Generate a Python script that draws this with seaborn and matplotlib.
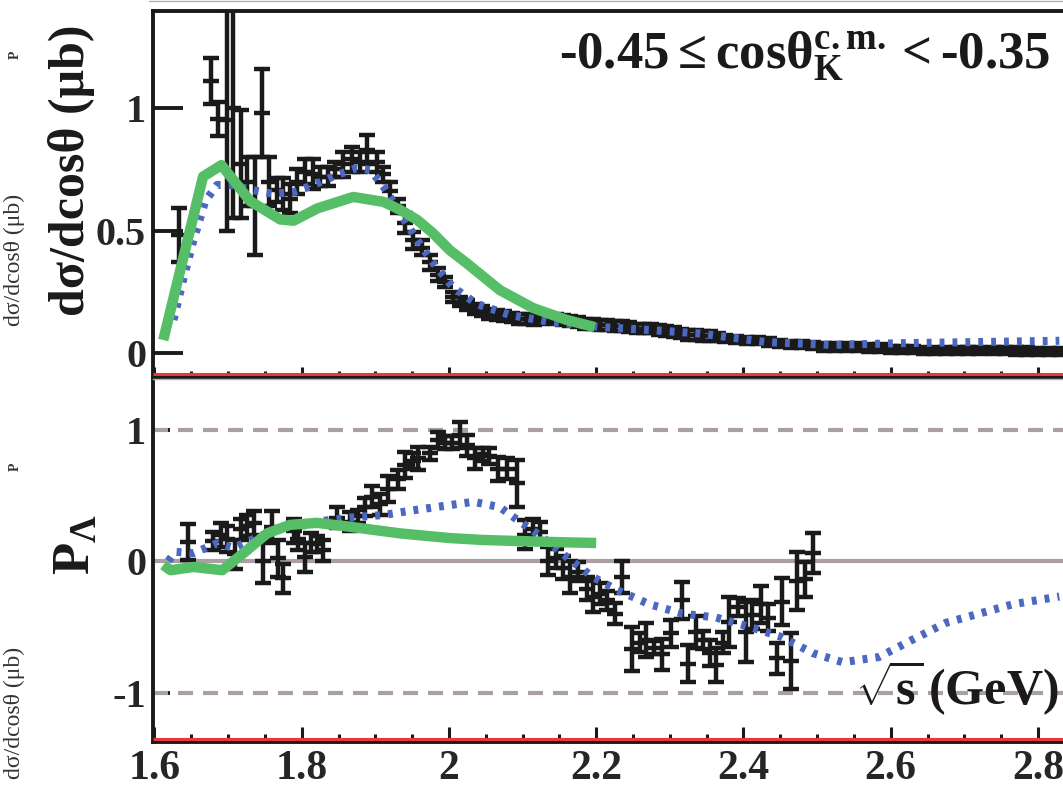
import matplotlib
matplotlib.use("Agg")
import matplotlib.pyplot as plt
from matplotlib.lines import Line2D
from matplotlib.ticker import FixedLocator, FuncFormatter
import seaborn as sns
import pandas as pd

# ---------------- data ----------------
# upper panel: differential cross section data points
ux = [1.634, 1.677, 1.687, 1.699, 1.707, 1.717, 1.726, 1.737, 1.746, 1.755, 1.767, 1.775,
      1.784, 1.794, 1.805, 1.816, 1.825, 1.836, 1.845, 1.856, 1.868, 1.879, 1.889, 1.902,
      1.911, 1.920, 1.931, 1.940, 1.951, 1.963, 1.974, 1.985, 1.995,
      2.005, 2.015, 2.025, 2.035, 2.045, 2.055, 2.065, 2.075, 2.085, 2.095, 2.105, 2.115,
      2.125, 2.135, 2.145, 2.155, 2.165, 2.175, 2.185, 2.195, 2.205, 2.215, 2.225, 2.235,
      2.245, 2.255, 2.265, 2.275, 2.285, 2.295, 2.305, 2.315, 2.325, 2.335, 2.345, 2.355,
      2.365, 2.375, 2.390, 2.405, 2.420, 2.435, 2.450, 2.465, 2.480, 2.495, 2.510, 2.525,
      2.540, 2.555, 2.570, 2.585, 2.600, 2.615, 2.630, 2.645, 2.660, 2.675, 2.690, 2.705,
      2.720, 2.740, 2.755, 2.770, 2.785, 2.800, 2.815, 2.830]
uy = [0.48, 1.11, 0.955, 0.95, 1.00, 0.77, 0.70, 0.60, 0.98, 0.70, 0.665, 0.65,
      0.63, 0.70, 0.74, 0.73, 0.72, 0.72, 0.75, 0.77, 0.79, 0.78, 0.83, 0.78,
      0.73, 0.66, 0.60, 0.53, 0.46, 0.43, 0.37, 0.32, 0.29,
      0.23, 0.21, 0.195, 0.18, 0.17, 0.16, 0.155, 0.15, 0.145, 0.14, 0.14, 0.135,
      0.14, 0.145, 0.14, 0.135, 0.13, 0.125, 0.12, 0.12, 0.115, 0.115, 0.11, 0.11,
      0.105, 0.10, 0.10, 0.10, 0.095, 0.09, 0.085, 0.08, 0.075, 0.075, 0.07, 0.07,
      0.065, 0.06, 0.055, 0.05, 0.05, 0.045, 0.04, 0.035, 0.035, 0.03, 0.025, 0.025,
      0.025, 0.025, 0.02, 0.02, 0.015, 0.015, 0.015, 0.01, 0.01, 0.01, 0.01, 0.01,
      0.01, 0.01, 0.01, 0.008, 0.008, 0.006, 0.005, 0.005]
ue = [0.11, 0.095, 0.07, 0.45, 0.45, 0.22, 0.10, 0.20, 0.18, 0.10, 0.05, 0.065,
      0.06, 0.05, 0.05, 0.06, 0.04, 0.04, 0.03, 0.05, 0.05, 0.04, 0.06, 0.04,
      0.03, 0.04, 0.03, 0.04, 0.035, 0.03, 0.03, 0.025, 0.02,
      0.02, 0.02, 0.02, 0.02, 0.02, 0.02, 0.02, 0.02, 0.02, 0.02, 0.02, 0.02,
      0.02, 0.02, 0.02, 0.02, 0.02, 0.02, 0.02, 0.02, 0.02, 0.02, 0.02, 0.02,
      0.02, 0.02, 0.02, 0.02, 0.02, 0.02, 0.02, 0.02, 0.02, 0.02, 0.02, 0.02,
      0.015, 0.015, 0.015, 0.015, 0.015, 0.015, 0.015, 0.015, 0.015, 0.015, 0.015, 0.015,
      0.015, 0.015, 0.015, 0.015, 0.015, 0.015, 0.015, 0.015, 0.015, 0.015, 0.015, 0.015,
      0.015, 0.015, 0.015, 0.015, 0.015, 0.015, 0.015, 0.015]

# upper panel model curves
green_x = [1.612, 1.666, 1.691, 1.730, 1.771, 1.789, 1.821, 1.870, 1.911, 1.934, 1.957,
           1.978, 2.001, 2.024, 2.069, 2.114, 2.160, 2.198]
green_y = [0.053, 0.72, 0.767, 0.62, 0.545, 0.54, 0.59, 0.637, 0.617, 0.584, 0.543,
           0.49, 0.42, 0.367, 0.257, 0.184, 0.135, 0.106]
blue_x = [1.626, 1.639, 1.653, 1.669, 1.685, 1.703, 1.734, 1.761, 1.789, 1.816, 1.848,
          1.875, 1.893, 1.911, 1.934, 1.957, 1.978, 2.005, 2.038, 2.083, 2.137, 2.205,
          2.273, 2.340, 2.430, 2.520, 2.610, 2.724, 2.829]
blue_y = [0.135, 0.30, 0.46, 0.62, 0.686, 0.686, 0.665, 0.65, 0.657, 0.686, 0.727,
          0.755, 0.747, 0.68, 0.57, 0.46, 0.37, 0.27, 0.20, 0.155, 0.127, 0.106,
          0.094, 0.08, 0.045, 0.033, 0.04, 0.045, 0.05]

# lower panel: polarization data points
lx = [1.645, 1.679, 1.690, 1.699, 1.710, 1.717, 1.726, 1.735, 1.748, 1.760, 1.768, 1.775,
      1.789, 1.795, 1.805, 1.812, 1.821, 1.829, 1.848, 1.866, 1.877, 1.886, 1.896, 1.906,
      1.917, 1.931, 1.940, 1.951, 1.958, 1.974, 1.985, 1.995, 2.004, 2.015, 2.024, 2.035,
      2.046, 2.055, 2.066, 2.079, 2.092, 2.103, 2.114, 2.123, 2.134, 2.146, 2.155, 2.164,
      2.175, 2.187, 2.195, 2.205, 2.214, 2.225, 2.235, 2.248, 2.259, 2.268, 2.279, 2.290,
      2.302, 2.316, 2.324, 2.336, 2.345, 2.354, 2.363, 2.372, 2.381, 2.392, 2.404, 2.412,
      2.424, 2.433, 2.445, 2.453, 2.465, 2.473, 2.483, 2.494]
ly = [0.145, 0.15, 0.20, 0.17, 0.05, 0.24, 0.27, 0.29, 0.00, 0.26, 0.02, -0.13,
      0.23, 0.17, 0.03, 0.14, 0.13, 0.08, 0.33, 0.30, 0.34, 0.41, 0.49, 0.43,
      0.55, 0.62, 0.73, 0.76, 0.78, 0.82, 0.92, 0.90, 0.90, 0.96, 0.88, 0.78,
      0.81, 0.80, 0.70, 0.70, 0.59, 0.20, 0.24, 0.22, 0.00, 0.02, -0.05, -0.12,
      -0.08, -0.21, -0.27, -0.25, -0.30, -0.40, -0.12, -0.67, -0.62, -0.60, -0.66, -0.71,
      -0.55, -0.30, -0.78, -0.54, -0.60, -0.70, -0.79, -0.62, -0.46, -0.35, -0.54, -0.41,
      -0.33, -0.43, -0.74, -0.31, -0.76, -0.15, -0.14, 0.06]
le = [0.14, 0.07, 0.09, 0.10, 0.11, 0.08, 0.08, 0.09, 0.17, 0.12, 0.14, 0.11,
      0.09, 0.09, 0.11, 0.07, 0.06, 0.08, 0.08, 0.07, 0.05, 0.07, 0.08, 0.08,
      0.10, 0.07, 0.10, 0.06, 0.09, 0.05, 0.06, 0.05, 0.05, 0.10, 0.08, 0.08,
      0.05, 0.06, 0.09, 0.08, 0.18, 0.11, 0.08, 0.08, 0.11, 0.07, 0.09, 0.12,
      0.07, 0.09, 0.12, 0.08, 0.07, 0.08, 0.12, 0.17, 0.07, 0.13, 0.05, 0.12,
      0.10, 0.14, 0.14, 0.12, 0.07, 0.10, 0.13, 0.08, 0.19, 0.07, 0.23, 0.11,
      0.14, 0.10, 0.12, 0.18, 0.21, 0.22, 0.13, 0.15]

# lower panel model curves
lgreen_x = [1.612, 1.622, 1.653, 1.692, 1.721, 1.753, 1.784, 1.821, 1.866, 1.934, 2.000,
            2.046, 2.137, 2.200]
lgreen_y = [-0.03, -0.07, -0.045, -0.07, 0.06, 0.21, 0.275, 0.29, 0.26, 0.21, 0.175,
            0.16, 0.145, 0.137]
lblue_x = [1.619, 1.628, 1.653, 1.685, 1.707, 1.740, 1.775, 1.821, 1.866, 1.911, 1.957,
           2.001, 2.033, 2.069, 2.096, 2.127, 2.160, 2.195, 2.228, 2.273, 2.317, 2.363,
           2.408, 2.453, 2.494, 2.535, 2.584, 2.629, 2.675, 2.720, 2.765, 2.829]
lblue_y = [0.0, 0.07, 0.06, 0.135, 0.10, 0.18, 0.26, 0.30, 0.33, 0.35, 0.39,
           0.425, 0.45, 0.41, 0.30, 0.18, 0.03, -0.12, -0.22, -0.33, -0.40, -0.43,
           -0.50, -0.58, -0.70, -0.77, -0.73, -0.60, -0.47, -0.40, -0.33, -0.27]

x_ticks = [1.6, 1.8, 2.0, 2.2, 2.4, 2.6, 2.8]
x_minor = [1.65, 1.7, 1.75, 1.85, 1.9, 1.95, 2.05, 2.1, 2.15, 2.25, 2.3, 2.35,
           2.45, 2.5, 2.55, 2.65, 2.7, 2.75]
top_yticks = [0, 0.5, 1]
bot_yticks = [-1, 0, 1]
annot_text = r"$\text{-0.45} \leq \mathrm{cos\theta}^{\mathrm{c.m.}}_{\mathrm{K}} < \text{-0.35}$"
ylabel_top = "dσ/dcosθ (μb)"
ylabel_bot = r"$\mathrm{P}_{\Lambda}$"
xlabel = r"$\sqrt{\mathrm{s}}\,\mathrm{(GeV)}$"

# ---------------- style ----------------
sns.set_theme(style="white")
plt.rcParams['font.family'] = ['Liberation Serif', 'DejaVu Serif']
plt.rcParams['font.weight'] = 'bold'
plt.rcParams['axes.unicode_minus'] = False
plt.rcParams['mathtext.fontset'] = 'custom'
plt.rcParams['mathtext.rm'] = 'Liberation Serif:bold'
plt.rcParams['mathtext.it'] = 'Liberation Serif:bold'
plt.rcParams['mathtext.bf'] = 'Liberation Serif:bold'
plt.rcParams['mathtext.sf'] = 'Liberation Serif:bold'

GREEN = '#56be67'
BLUE = '#4c68c1'
GREY = '#ab9ea5'
RED = '#e8383a'
BLACK = '#1a1a1a'

fig = plt.figure(figsize=(10.63, 7.85), dpi=100)
ax1 = fig.add_axes([0.1439, 0.5197, 0.8561, 0.4663])
ax2 = fig.add_axes([0.1439, 0.0548, 0.8561, 0.4624])

xlim = (1.598, 2.834)
ebkw = dict(fmt='_', color=BLACK, ms=11, mew=3.2, elinewidth=3.2, capsize=5.5,
            capthick=3.2, zorder=3)

# upper panel
ax1.errorbar(ux, uy, yerr=ue, **ebkw)
dfb = pd.DataFrame({'x': blue_x, 'y': blue_y})
dfg = pd.DataFrame({'x': green_x, 'y': green_y})
sns.lineplot(data=dfb, x='x', y='y', ax=ax1, color=BLUE, lw=5.8,
             linestyle=(0, (0.6, 1.0)), zorder=4)
sns.lineplot(data=dfg, x='x', y='y', ax=ax1, color=GREEN, lw=7.5,
             solid_capstyle='butt', zorder=5)
ax1.set_xlim(*xlim)
ax1.set_ylim(-0.098, 1.396)

# lower panel
ax2.axhline(0, color=GREY, lw=3, zorder=1)
for yv in (1, -1):
    ax2.axhline(yv, color=GREY, lw=3, linestyle=(0, (3.6, 2.4)), zorder=1)
ax2.errorbar(lx, ly, yerr=le, **ebkw)
dflb = pd.DataFrame({'x': lblue_x, 'y': lblue_y})
dflg = pd.DataFrame({'x': lgreen_x, 'y': lgreen_y})
sns.lineplot(data=dflb, x='x', y='y', ax=ax2, color=BLUE, lw=5.8,
             linestyle=(0, (0.6, 1.0)), zorder=4)
sns.lineplot(data=dflg, x='x', y='y', ax=ax2, color=GREEN, lw=7.5,
             solid_capstyle='butt', zorder=5)
ax2.set_xlim(*xlim)
ax2.set_ylim(-1.376, 1.384)

fmt = FuncFormatter(lambda v, p: '%g' % v)
for ax, ylen in ((ax1, 21.5), (ax2, 12.5)):
    ax.set_xlabel('')
    ax.set_ylabel('')
    ax.xaxis.set_major_locator(FixedLocator(x_ticks))
    ax.xaxis.set_minor_locator(FixedLocator(x_minor))
    ax.yaxis.set_major_formatter(fmt)
    ax.xaxis.set_major_formatter(fmt)
    ax.tick_params(axis='y', which='major', direction='in', length=ylen, width=2.8,
                   color=BLACK, labelsize=29, pad=5, left=True, right=False)
    ax.tick_params(axis='y', which='minor', left=False, right=False)
    ax.spines['right'].set_visible(False)
    ax.spines['left'].set_linewidth(2.8)
    ax.spines['left'].set_color(BLACK)
    ax.spines['bottom'].set_linewidth(2.8)
    ax.spines['bottom'].set_color(BLACK)
    ax.plot([0, 1], [0.0095, 0.0095], transform=ax.transAxes, color=RED, lw=2.2,
            solid_capstyle='butt', zorder=6, clip_on=False)

ax1.yaxis.set_major_locator(FixedLocator(top_yticks))
ax2.yaxis.set_major_locator(FixedLocator(bot_yticks))
ax1.tick_params(axis='x', which='major', direction='in', length=7.5, width=2.2,
                color=BLACK, labelbottom=False, bottom=True)
ax1.tick_params(axis='x', which='minor', direction='in', length=4, width=2.2,
                color=BLACK, bottom=True)
ax2.tick_params(axis='x', which='major', direction='in', length=11, width=2.2,
                color=BLACK, labelsize=30, pad=6, bottom=True)
ax2.tick_params(axis='x', which='minor', direction='in', length=5.5, width=2.2,
                color=BLACK, bottom=True)
ax1.spines['top'].set_linewidth(2.8)
ax1.spines['top'].set_color(BLACK)
ax2.spines['top'].set_linewidth(1.0)
ax2.spines['top'].set_color('#b0b0b0')
for ax in (ax1, ax2):
    for lab in ax.get_yticklabels() + ax.get_xticklabels():
        lab.set_fontweight('bold')

# texts
ax1.text(0.986, 0.839, annot_text, transform=ax1.transAxes, ha='right', va='baseline',
         fontsize=38, color=BLACK)
fig.text(0.0675, 0.783, ylabel_top, rotation=90, ha='center', va='center',
         fontsize=36, fontweight='bold', color=BLACK)
fig.text(0.0725, 0.306, ylabel_bot, rotation=90, ha='center', va='center',
         fontsize=38, color=BLACK)
ax2.text(2.552, -0.96, xlabel, ha='left', va='center', fontsize=36, color=BLACK)

# faint ghost labels at the far left edge
fig.text(0.014, 0.669, ylabel_top, rotation=90, ha='center', va='center',
         fontsize=17, fontweight='normal', color='#333333')
fig.text(0.014, 0.176, ylabel_top, rotation=90, ha='center', va='top',
         fontsize=17, fontweight='normal', color='#333333')
fig.text(0.014, 0.930, "P", rotation=90, ha='center', va='center', fontsize=10,
         fontweight='bold', color='#333333')
fig.text(0.014, 0.405, "P", rotation=90, ha='center', va='center', fontsize=10,
         fontweight='bold', color='#333333')

fig.add_artist(Line2D([0.14, 1.0], [0.9985, 0.9985], color='#b0b0b0', lw=1.0))

fig.savefig('out.png', dpi=100)
